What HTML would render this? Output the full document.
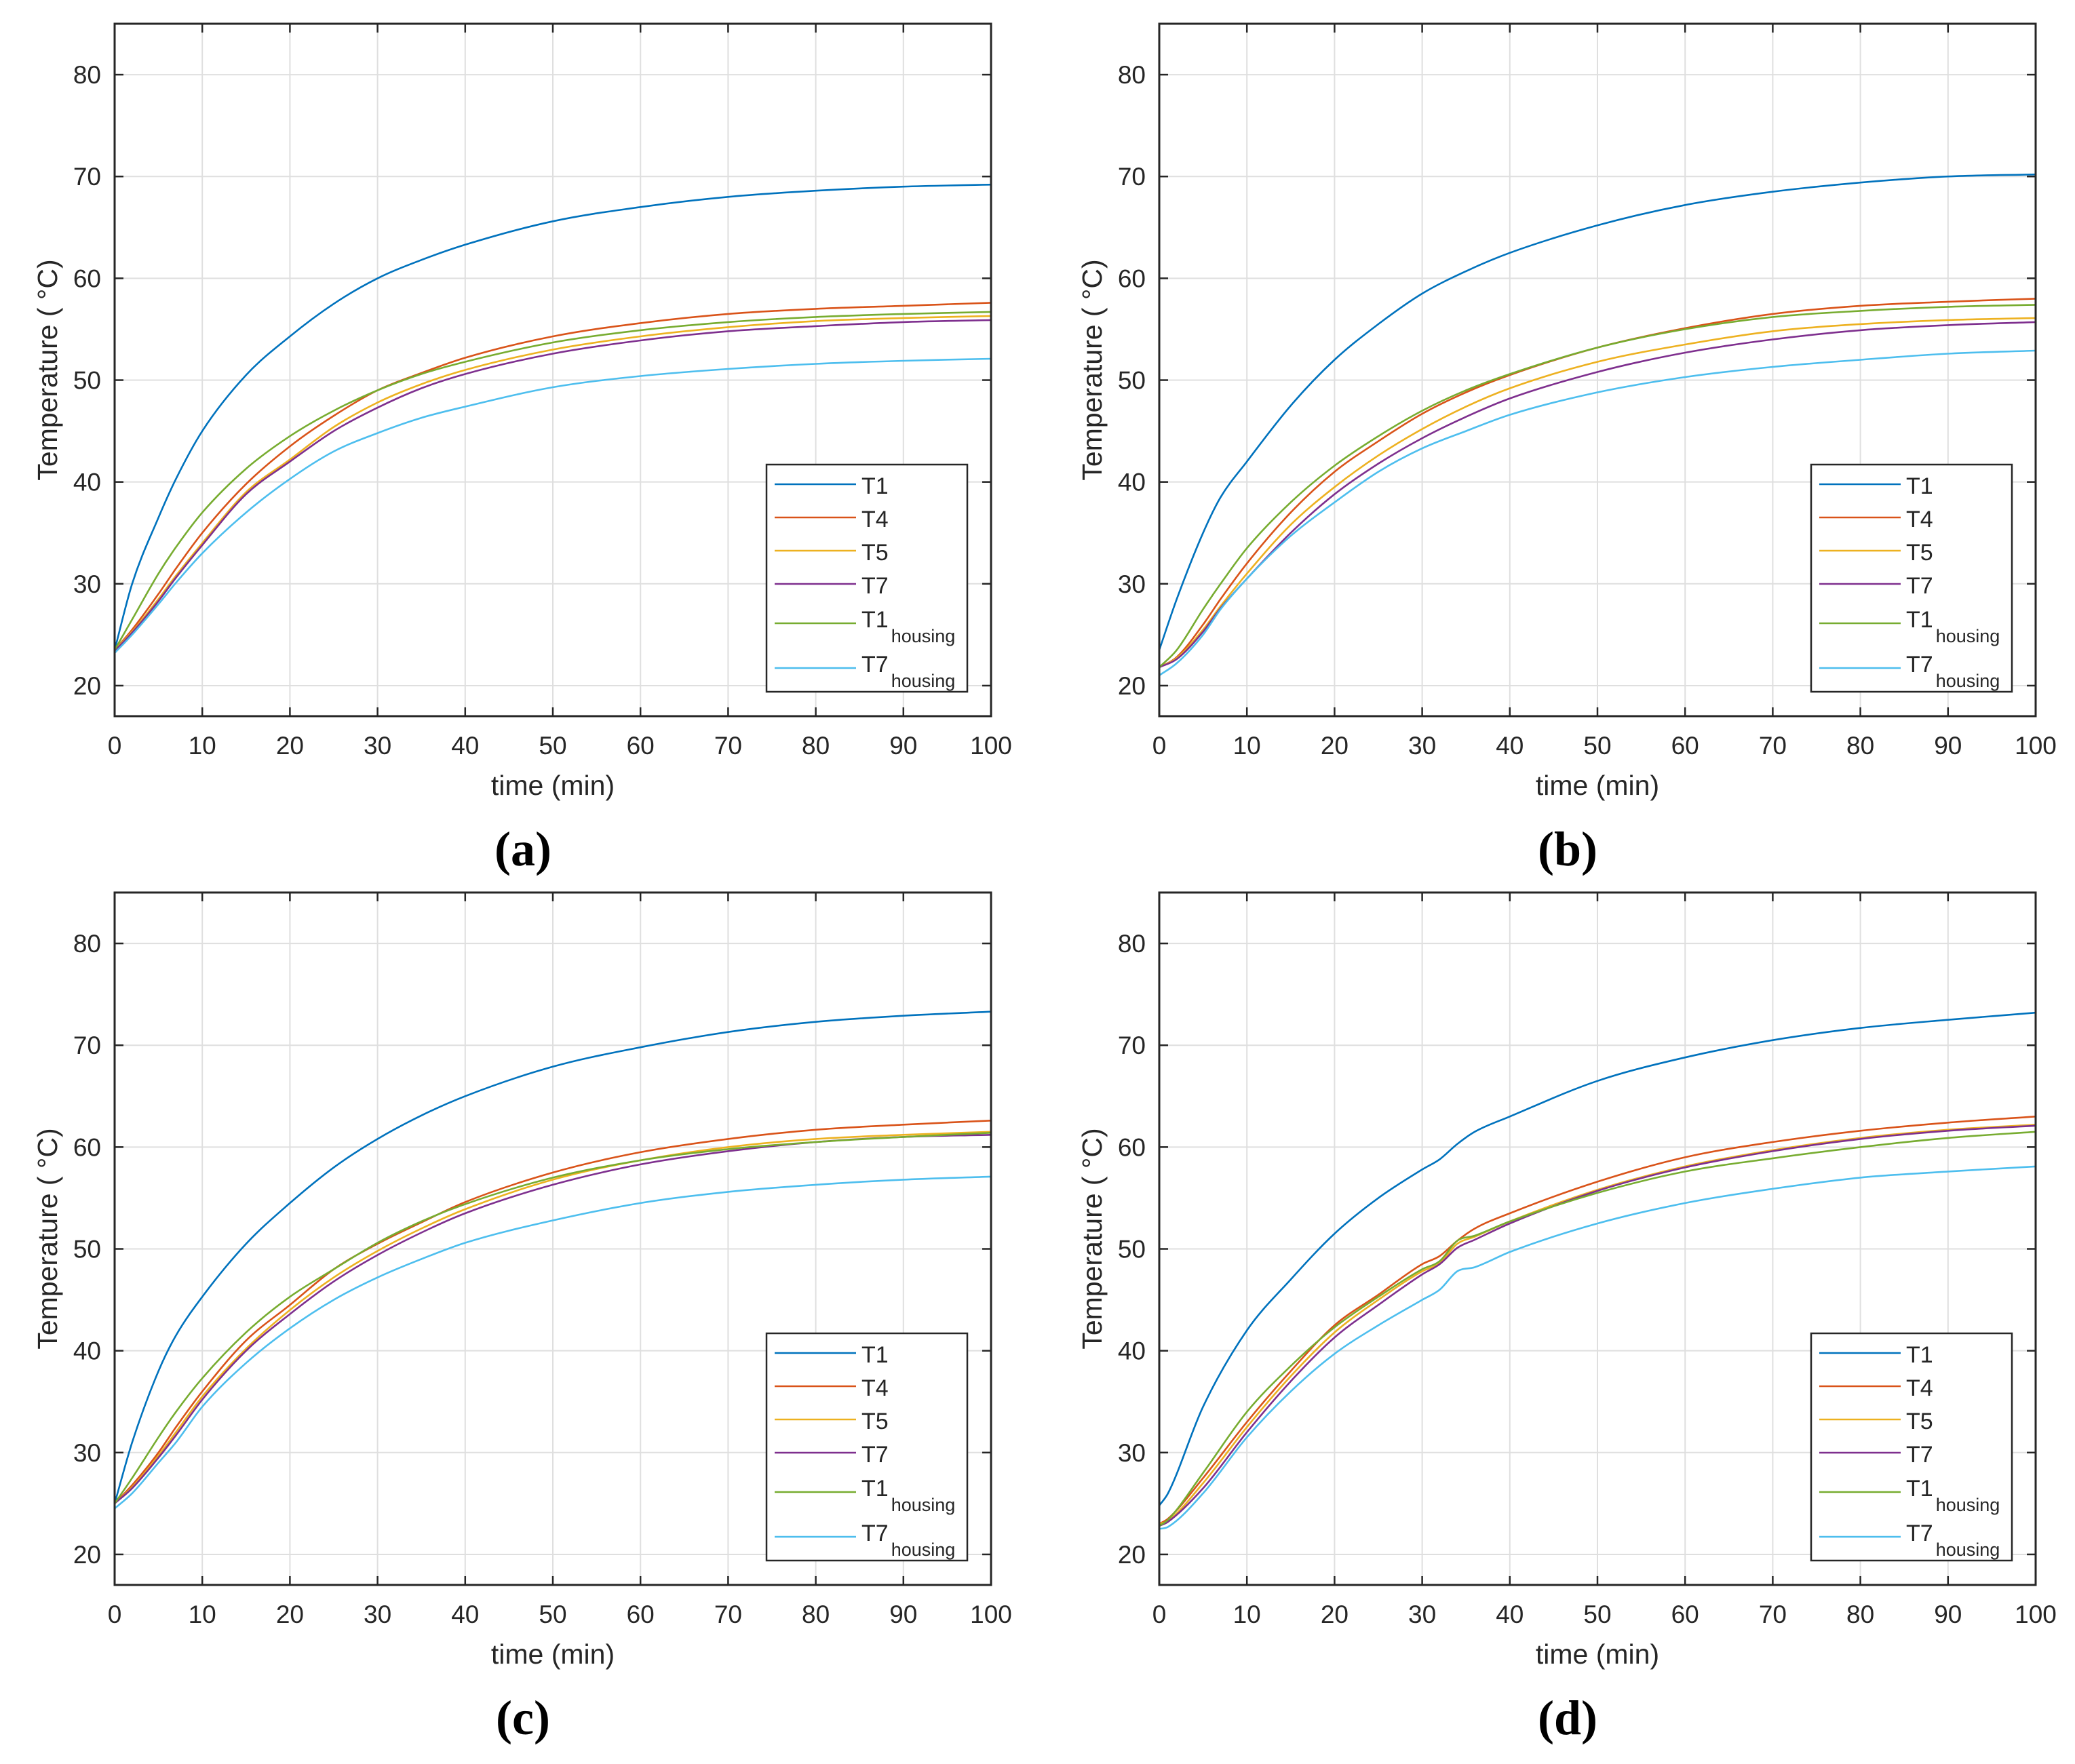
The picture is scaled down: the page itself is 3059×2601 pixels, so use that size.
<!DOCTYPE html>
<html><head><meta charset="utf-8">
<style>
html,body{margin:0;padding:0;background:#fff;}
svg{display:block;}
text{font-family:"Liberation Sans",sans-serif;fill:#262626;}
.pl{font-family:"Liberation Serif",serif;font-weight:bold;fill:#000;}
</style></head>
<body>
<svg id="fig" width="3059" height="2601" viewBox="0 0 3059 2601" xmlns="http://www.w3.org/2000/svg"></svg>
<script>
const xTicks=[0,10,20,30,40,50,60,70,80,90,100];
const yTicks=[20,30,40,50,60,70,80];
const seriesNames=["T1","T4","T5","T7","T1h","T7h"];
const seriesColors=["#0072BD","#D95319","#EDB120","#7E2F8E","#77AC30","#4DBEEE"];
const tA=[0,2,5,7,10,15,20,25,30,35,40,50,60,70,80,90,100];
const a_T1=[23.5,30,36.5,40.3,45,50.5,54.3,57.5,60,61.8,63.3,65.6,67,68,68.6,69,69.2];
const a_T4=[23.5,25.5,29,31.5,35,39.8,43.5,46.5,49,50.7,52.2,54.3,55.6,56.5,57,57.3,57.6];
const a_T5=[23.5,25.3,28.5,30.8,34,39,42.2,45.4,47.8,49.6,51,53,54.3,55.2,55.8,56.1,56.3];
const a_T7=[23.4,25.2,28.3,30.6,33.8,38.8,42,45,47.3,49.2,50.6,52.6,53.9,54.8,55.3,55.7,55.9];
const a_T1h=[23.5,26.5,31,33.6,37,41.3,44.5,47,49,50.6,51.8,53.7,54.9,55.7,56.2,56.5,56.7];
const a_T7h=[23.2,25,28,30.1,33,37,40.3,43,44.8,46.3,47.4,49.3,50.4,51.1,51.6,51.9,52.1];
const b_T1=[23.5,28.5,35,38.5,42,47.5,52,55.5,58.5,60.7,62.5,65.2,67.2,68.5,69.4,70,70.2];
const b_T4=[21.8,22.8,26,28.5,32,37,41,44,46.7,48.8,50.5,53.2,55.1,56.5,57.3,57.7,58];
const b_T5=[21.8,22.7,25.5,27.8,31,35.8,39.5,42.6,45.2,47.4,49.2,51.8,53.5,54.8,55.5,55.9,56.1];
const b_T7=[21.8,22.6,25.3,27.6,30.5,35,38.8,41.8,44.3,46.4,48.2,50.8,52.7,54,54.9,55.4,55.7];
const b_T1h=[21.8,23.5,27.5,30,33.5,38,41.6,44.5,47,49,50.6,53.2,55,56.2,56.8,57.2,57.4];
const b_T7h=[21,22.2,25,27.5,30.5,34.7,38,41,43.3,45,46.6,48.8,50.3,51.3,52,52.6,52.9];
const c_T1=[25,31,38,41.5,45.3,50.5,54.5,58,60.8,63.1,65,67.9,69.8,71.3,72.3,72.9,73.3];
const c_T4=[25,26.8,30,32.5,36,41,44.5,48,50.5,52.6,54.6,57.5,59.5,60.8,61.7,62.2,62.6];
const c_T5=[25,26.6,29.7,32,35.5,40.2,44,47.2,49.8,52,53.9,56.8,58.7,60,60.8,61.2,61.5];
const c_T7=[25,26.5,29.5,31.7,35.2,40,43.6,46.8,49.4,51.6,53.5,56.3,58.3,59.6,60.5,61,61.2];
const c_T1h=[25,27.5,31.5,34,37.3,41.8,45.3,48,50.6,52.7,54.4,57,58.7,59.8,60.5,61,61.4];
const c_T7h=[24.5,26,29,31,34.5,38.8,42.2,45,47.2,49,50.6,52.8,54.5,55.6,56.3,56.8,57.1];
const tD=[0,1,5,10,15,20,25,30,32,34,36,40,50,60,70,80,90,100];
const d_T1=[24.8,26,34.5,42,47,51.5,55,57.8,58.8,60.3,61.5,63,66.5,68.8,70.5,71.7,72.5,73.2];
const d_T4=[23,23.5,27.5,33,38,42.5,45.5,48.5,49.3,50.8,52,53.5,56.6,59,60.5,61.6,62.4,63];
const d_T5=[23,23.3,27,32.5,37.5,41.8,45,47.8,48.6,50.5,51.2,52.7,55.8,58.1,59.7,60.9,61.7,62.2];
const d_T7=[22.8,23.2,26.5,32,37,41.3,44.5,47.5,48.5,50.1,50.9,52.5,55.7,58,59.6,60.8,61.6,62.1];
const d_T1h=[22.8,23.4,28,34,38.5,42.3,45.3,48,48.8,50.8,51.3,52.7,55.5,57.6,58.9,60,60.9,61.5];
const d_T7h=[22.5,22.7,26,31.5,36,39.7,42.5,45,46,47.8,48.2,49.7,52.5,54.5,55.9,57,57.6,58.1];

const panels=[
 {id:"a",x0:169,y0:35,t:tA,s:[a_T1,a_T4,a_T5,a_T7,a_T1h,a_T7h]},
 {id:"b",x0:1709,y0:35,t:tA,s:[b_T1,b_T4,b_T5,b_T7,b_T1h,b_T7h]},
 {id:"c",x0:169,y0:1316,t:tA,s:[c_T1,c_T4,c_T5,c_T7,c_T1h,c_T7h]},
 {id:"d",x0:1709,y0:1316,t:tD,s:[d_T1,d_T4,d_T5,d_T7,d_T1h,d_T7h]}
];
const W=1292,H=1021,XMIN=0,XMAX=100,YMIN=17,YMAX=85;
const NS="http://www.w3.org/2000/svg";
const fig=document.getElementById("fig");
function mk(tag,attrs,parent){const e=document.createElementNS(NS,tag);for(const k in attrs)e.setAttribute(k,attrs[k]);(parent||fig).appendChild(e);return e;}
function pathFrom(pts){
 const n=pts.length,s=[],m=[];
 for(let i=0;i<n-1;i++)s.push((pts[i+1][1]-pts[i][1])/(pts[i+1][0]-pts[i][0]));
 for(let i=0;i<n;i++){
  if(i===0)m.push(s[0]);else if(i===n-1)m.push(s[n-2]);else m.push((s[i-1]+s[i])/2);
 }
 let d="M"+pts[0][0].toFixed(1)+","+pts[0][1].toFixed(1);
 for(let i=0;i<n-1;i++){
  const h=(pts[i+1][0]-pts[i][0])/3;
  const c1=[pts[i][0]+h,pts[i][1]+m[i]*h];
  const c2=[pts[i+1][0]-h,pts[i+1][1]-m[i+1]*h];
  d+=" C"+c1[0].toFixed(1)+","+c1[1].toFixed(1)+" "+c2[0].toFixed(1)+","+c2[1].toFixed(1)+" "+pts[i+1][0].toFixed(1)+","+pts[i+1][1].toFixed(1);
 }
 return d;
}
panels.forEach(p=>{
 const X=v=>p.x0+(v-XMIN)/(XMAX-XMIN)*W;
 const Y=v=>p.y0+H-(v-YMIN)/(YMAX-YMIN)*H;
 const g=mk("g",{});
 
 
 mk("rect",{x:p.x0,y:p.y0,width:W,height:H,fill:"#fff"},g);
 xTicks.forEach(v=>{
  const l=mk("line",{x1:X(v),x2:X(v),y1:p.y0,y2:p.y0+H,stroke:"#dfdfdf","stroke-width":2},g);
  
  
  mk("line",{x1:X(v),x2:X(v),y1:p.y0+H,y2:p.y0+H-13,stroke:"#262626","stroke-width":2.5},g);
  mk("line",{x1:X(v),x2:X(v),y1:p.y0,y2:p.y0+13,stroke:"#262626","stroke-width":2.5},g);
  const t=mk("text",{x:X(v),y:p.y0+H+56,"text-anchor":"middle","font-size":37},g);
  t.textContent=v;
  
  
 });
 yTicks.forEach(v=>{
  const l=mk("line",{x1:p.x0,x2:p.x0+W,y1:Y(v),y2:Y(v),stroke:"#dfdfdf","stroke-width":2},g);
  
  
  mk("line",{x1:p.x0,x2:p.x0+13,y1:Y(v),y2:Y(v),stroke:"#262626","stroke-width":2.5},g);
  mk("line",{x1:p.x0+W,x2:p.x0+W-13,y1:Y(v),y2:Y(v),stroke:"#262626","stroke-width":2.5},g);
  const t=mk("text",{x:p.x0-20,y:Y(v)+13,"text-anchor":"end","font-size":37},g);
  t.textContent=v;
  
  
 });
 p.s.forEach((vals,i)=>{
  const pts=p.t.map((tt,j)=>[X(tt),Y(vals[j])]);
  const ln=mk("path",{d:pathFrom(pts),fill:"none",stroke:seriesColors[i],"stroke-width":2.6},g);
  
  
 });
 const fr=mk("rect",{x:p.x0,y:p.y0,width:W,height:H,fill:"none",stroke:"#262626","stroke-width":3},g);
 
 
 const xl=mk("text",{x:p.x0+W/2,y:p.y0+H+116,"text-anchor":"middle","font-size":41},g);
 xl.textContent="time (min)";
 
 
 const yl=mk("text",{x:0,y:0,"text-anchor":"middle","font-size":41,transform:"translate("+(p.x0-85)+","+(p.y0+H/2)+") rotate(-90)"},g);
 yl.textContent="Temperature ( °C)";
 
 
 const pl=mk("text",{x:p.x0+W/2-44,y:p.y0+H+220,"text-anchor":"middle","font-size":72,"class":"pl"},g);
 pl.textContent="("+p.id+")";
 
 
 const lx=p.x0+961,ly=p.y0+650;
 const lg=mk("g",{},g);
 
 
 mk("rect",{x:lx,y:ly,width:296,height:335,fill:"#fff",stroke:"#262626","stroke-width":2.5},lg);
 const offs=[29,78,127,176,234,300];
 const labs=["T1","T4","T5","T7","T1","T7"];
 offs.forEach((o,i)=>{
  const le=mk("g",{},lg);
  
  
  mk("line",{x1:lx+12,x2:lx+132,y1:ly+o,y2:ly+o,stroke:seriesColors[i],"stroke-width":2.6},le);
  const tx=mk("text",{x:lx+140,y:ly+o+(i<4?14:6),"font-size":34,fill:"#000"},le);
  tx.textContent=labs[i];
  if(i>=4){
   const sb=mk("tspan",{"font-size":27,dx:4,dy:22},tx);
   sb.textContent="housing";
  }
 });
});
</script>
</body></html>
